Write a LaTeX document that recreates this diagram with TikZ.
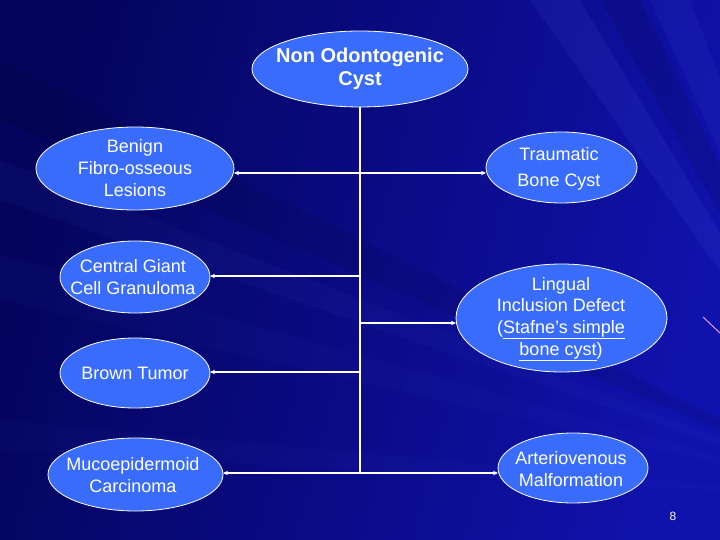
\documentclass[tikz,border=0pt]{standalone}
\usepackage{fontspec}
\setmainfont{Liberation Sans}
\usetikzlibrary{shapes.geometric,arrows.meta}
\definecolor{bgdark}{RGB}{4,4,92}
\definecolor{bglight}{RGB}{16,18,172}
\definecolor{ray}{RGB}{90,110,240}
\definecolor{ellfill}{RGB}{58,108,252}
\definecolor{pinkline}{RGB}{230,150,230}
\begin{document}
\begin{tikzpicture}[x=1pt,y=-1pt,
  ell/.style={ellipse, draw=white, line width=0.8pt, fill=ellfill, inner sep=0pt, outer sep=0pt},
  lbl/.style={text=white, align=center, inner sep=0pt, font=\fontsize{18}{21.6}\selectfont},
  trunk/.style={draw=white, line width=1.5pt},
  arr/.style={draw=white, line width=1.5pt, -{Stealth[length=5pt,width=4.5pt]}}]
% background
\useasboundingbox (0,0) rectangle (720,540);
\shade[left color=bgdark, right color=bglight, shading angle=75] (0,0) rectangle (720,540);
\begin{scope}
\clip (0,0) rectangle (720,540);
\fill[ray, opacity=0.10] (880,500) -- (530,0) -- (580,0) -- cycle;
\fill[ray, opacity=0.08] (880,500) -- (650,0) -- (690,0) -- cycle;
\fill[black, opacity=0.10] (880,500) -- (600,0) -- (640,0) -- cycle;
\fill[ray, opacity=0.05] (880,500) -- (0,160) -- (0,200) -- cycle;
\fill[ray, opacity=0.03] (880,500) -- (0,255) -- (0,300) -- cycle;
\fill[black, opacity=0.08] (880,500) -- (0,60) -- (0,120) -- cycle;
\fill[ray, opacity=0.03] (880,500) -- (0,420) -- (0,450) -- cycle;
\draw[pinkline, line width=1pt] (703,317) -- (720,333);
\end{scope}
% ellipses
\node[ell, minimum width=216pt, minimum height=76pt] (top) at (360,69) {};
\node[ell, minimum width=198pt, minimum height=83pt] (benign) at (135,168.5) {};
\node[ell, minimum width=150pt, minimum height=72pt] (cgcg) at (135,277) {};
\node[ell, minimum width=150pt, minimum height=70pt] (brown) at (135,373) {};
\node[ell, minimum width=175pt, minimum height=73pt] (muco) at (135.5,474.5) {};
\node[ell, minimum width=151pt, minimum height=71pt] (trauma) at (561.5,167.5) {};
\node[ell, minimum width=211pt, minimum height=108pt] (ling) at (561.5,318) {};
\node[ell, minimum width=150pt, minimum height=70pt] (avm) at (573,468) {};
% labels
\node[lbl, font=\bfseries\fontsize{20}{23}\selectfont] (topt) at (360,69) {Non Odontogenic\\Cyst};
\node[lbl] (benignt) at (135,168) {Benign\\Fibro-osseous\\Lesions};
\node[lbl] (cgcgt) at (133,277) {Central Giant\\Cell Granuloma};
\node[lbl] (brownt) at (135,373) {Brown Tumor};
\node[lbl] (mucot) at (133,475) {Mucoepidermoid\\Carcinoma};
\node[lbl] (traumat) at (559,169) {Traumatic\\[5pt]Bone Cyst};
\node[lbl] (lingt) at (561,319) {Lingual\\Inclusion Defect\\(\underline{Stafne’s simple}\\\underline{bone cyst})};
\node[lbl] (avmt) at (571,469) {Arteriovenous\\Malformation};
\node[text=white, inner sep=0pt, font=\fontsize{12}{14}\selectfont] (pg) at (673,516) {8};
% connectors
\coordinate (j1) at (360,173);
\coordinate (j2) at (360,276);
\coordinate (j3) at (360,323);
\coordinate (j4) at (360,372);
\coordinate (j5) at (360,473);
\draw[trunk] (top.south) -- (j5);
\draw[arr] (j1) -- (benign.east |- j1);
\draw[arr] (j1) -- (trauma.west |- j1);
\draw[arr] (j2) -- (cgcg.east |- j2);
\draw[arr] (j3) -- (ling.west |- j3);
\draw[arr] (j4) -- (brown.east |- j4);
\draw[arr] (j5) -- (muco.east |- j5);
\draw[arr] (j5) -- (avm.west |- j5);
\end{tikzpicture}
\end{document}
